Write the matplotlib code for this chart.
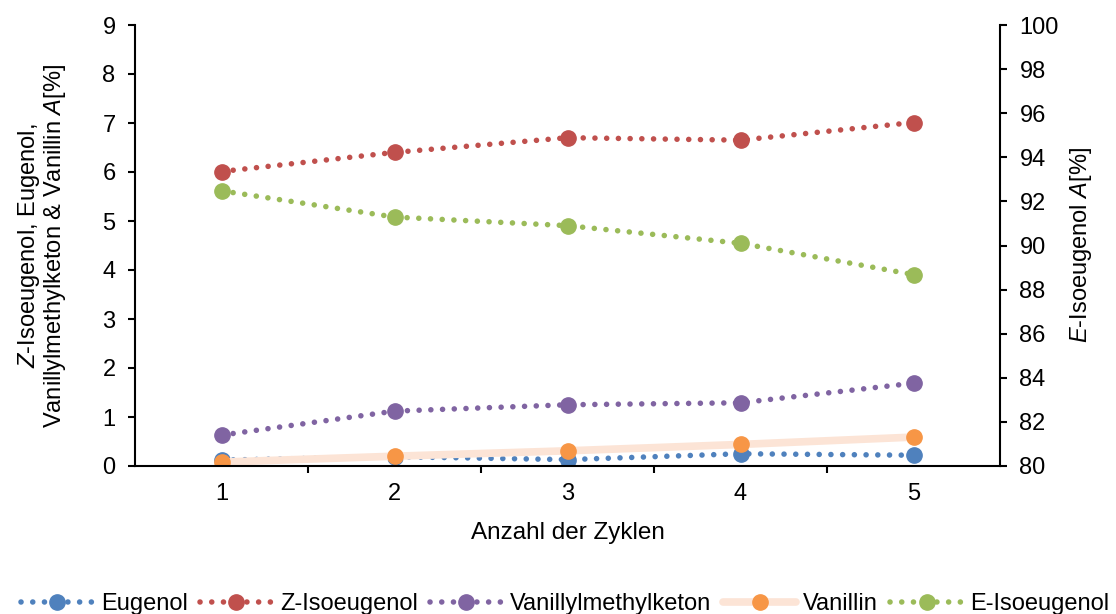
import matplotlib
matplotlib.use("Agg")
import matplotlib.pyplot as plt

plt.rcParams['font.family'] = ['Liberation Sans', 'DejaVu Sans']
plt.rcParams['mathtext.fontset'] = 'custom'
plt.rcParams['mathtext.rm'] = 'Liberation Sans'
plt.rcParams['mathtext.it'] = 'Liberation Sans:italic'

cycles = [1, 2, 3, 4, 5]
eugenol = [0.12, 0.19, 0.13, 0.25, 0.22]
z_isoeugenol = [6.01, 6.40, 6.70, 6.65, 7.01]
vanillylmethylketon = [0.63, 1.12, 1.25, 1.29, 1.69]
vanillin = [0.08, 0.20, 0.31, 0.44, 0.59]
e_isoeugenol = [92.48, 91.29, 90.90, 90.10, 88.68]

left_ticks = list(range(0, 10))
right_ticks = list(range(80, 101, 2))

c_blue = '#4F81BD'
c_red = '#C0504D'
c_purple = '#8064A2'
c_orange = '#F79646'
c_green = '#9BBB59'
c_peach = '#FCE4D6'

FS = 17

fig = plt.figure(figsize=(11.16, 6.14), dpi=100)
ax = fig.add_axes([135 / 1116, 1 - 466 / 614, 865 / 1116, 441 / 614])
ax2 = ax.twinx()

dot = dict(linestyle=(0, (0.01, 2.1)), dash_capstyle='round', linewidth=4.0,
           marker='o', markersize=11)

h1, = ax.plot(cycles, eugenol, color=c_blue, label='Eugenol', **dot)
h2, = ax.plot(cycles, z_isoeugenol, color=c_red, label='Z-Isoeugenol', **dot)
h3, = ax.plot(cycles, vanillylmethylketon, color=c_purple,
              label='Vanillylmethylketon', **dot)
h4, = ax.plot(cycles, vanillin, color=c_peach, linewidth=5.5,
              solid_capstyle='round', marker='o', markersize=11,
              markerfacecolor=c_orange, markeredgecolor=c_orange,
              label='Vanillin')
h5, = ax2.plot(cycles, e_isoeugenol, color=c_green, label='E-Isoeugenol', **dot)

ax.set_xlim(0.5, 5.5)
ax.set_ylim(0, 9)
ax2.set_ylim(80, 100)
ax.set_yticks(left_ticks)
ax2.set_yticks(right_ticks)

# category labels centred, tick marks between categories
ax.set_xticks(cycles)
ax.set_xticklabels([str(c) for c in cycles])
ax.tick_params(axis='x', which='major', length=0, pad=12, labelsize=FS)
ax.set_xticks([1.5, 2.5, 3.5, 4.5], minor=True)
ax.tick_params(axis='x', which='minor', length=5, width=1.5, direction='out')

for a in (ax, ax2):
    for s in a.spines.values():
        s.set_visible(False)
ax.spines['left'].set_visible(True)
ax.spines['bottom'].set_visible(True)
ax2.spines['right'].set_visible(True)
for s in (ax.spines['left'], ax.spines['bottom'], ax2.spines['right']):
    s.set_linewidth(1.5)
    s.set_color('black')

ax.tick_params(axis='y', length=5, width=1.5, labelsize=FS, pad=9)
ax2.tick_params(axis='y', length=5, width=1.5, labelsize=FS, pad=9)

ax.set_xlabel('Anzahl der Zyklen', fontsize=FS + 0.5)
ax.xaxis.set_label_coords(0.5, -0.128)
ax.set_ylabel('$Z$-Isoeugenol, Eugenol,\nVanillylmethylketon & Vanillin $A$[%]',
              fontsize=FS, linespacing=1.0)
ax.yaxis.set_label_coords(-0.078, 0.5)
ax2.set_ylabel('$E$-Isoeugenol $A$[%]', fontsize=FS)
ax2.yaxis.set_label_coords(1.0786, 0.5)

fig.legend(handles=[h1, h2, h3, h4, h5], loc='center',
           bbox_to_anchor=(0.5063, 1 - 604 / 614), ncol=5, frameon=False,
           fontsize=FS, handlelength=3.1, columnspacing=0.5, handletextpad=0.3)

fig.savefig('out.png', dpi=100)
